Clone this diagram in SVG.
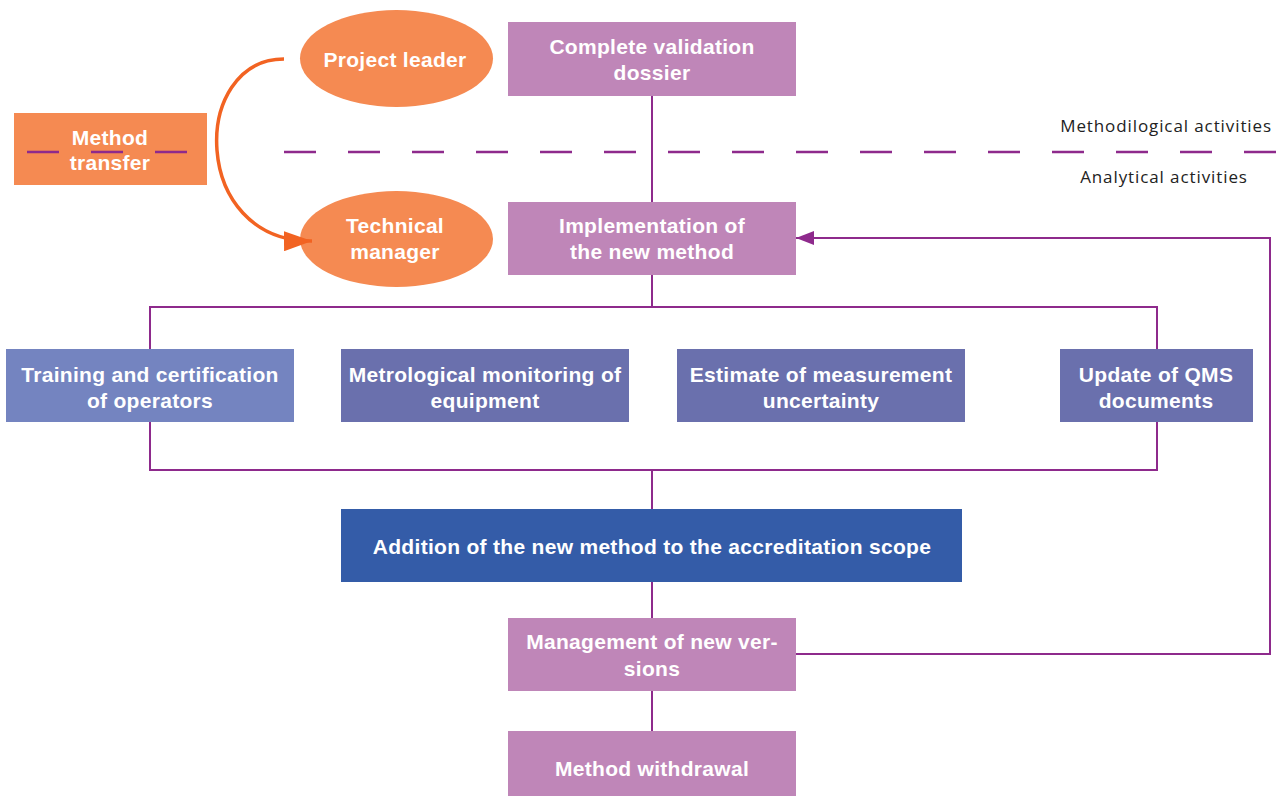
<svg xmlns="http://www.w3.org/2000/svg" width="1281" height="796" viewBox="0 0 1281 796">
<defs>
<marker id="arrP" markerUnits="userSpaceOnUse" viewBox="0 0 18 14" markerWidth="18" markerHeight="14" refX="18" refY="7" orient="auto"><path d="M0,0 L18,7 L0,14 z" fill="#8E2A8C"/></marker>
<marker id="arrO" markerUnits="userSpaceOnUse" viewBox="0 0 28 20" markerWidth="28" markerHeight="20" refX="28" refY="10" orient="auto"><path d="M0,0 L28,10 L0,20 z" fill="#F26322"/></marker>
<style>
.t{font-family:"Liberation Sans",Arial,sans-serif;font-weight:bold;font-size:21px;fill:#fff;text-anchor:middle;letter-spacing:0.3px}
.lbl{font-family:"Open Sans",sans-serif;font-size:17px;fill:#222;letter-spacing:0.9px}
.ln{fill:none;stroke:#8E2A8C;stroke-width:2}
.dash{fill:none;stroke:#8E2A8C;stroke-width:2.5;stroke-dasharray:32 32}
.pur{fill:#BF86B8}
.ind{fill:#6A70AD}
.org{fill:#F58A52}
</style>
</defs>
<rect width="1281" height="796" fill="#fff"/>

<g id="method-transfer">
<rect class="org" x="14" y="113" width="193" height="72"/>
<text class="t" x="110" y="145">Method</text>
<text class="t" x="110" y="170">transfer</text>
</g>

<g id="labels">
<text class="lbl" x="1272" y="132" text-anchor="end">Methodilogical activities</text>
<text class="lbl" x="1164" y="183" text-anchor="middle">Analytical activities</text>
</g>

<g id="project-leader">
<ellipse class="org" cx="396.5" cy="58.5" rx="96.5" ry="48.5"/>
<text class="t" x="395" y="67">Project leader</text>
</g>

<g id="technical-manager">
<ellipse class="org" cx="396.5" cy="239" rx="96.5" ry="48"/>
<text class="t" x="395" y="233">Technical</text>
<text class="t" x="395" y="259">manager</text>
</g>

<g id="validation-dossier">
<rect class="pur" x="508" y="22" width="288" height="74"/>
<text class="t" x="652" y="54">Complete validation</text>
<text class="t" x="652" y="80">dossier</text>
</g>

<g id="implementation">
<rect class="pur" x="508" y="202" width="288" height="73"/>
<text class="t" x="652" y="233">Implementation of</text>
<text class="t" x="652" y="259">the new method</text>
</g>

<g id="training">
<rect x="6" y="349" width="288" height="73" fill="#7484C0"/>
<text class="t" x="150" y="382">Training and certification</text>
<text class="t" x="150" y="408">of operators</text>
</g>

<g id="metrological">
<rect class="ind" x="341" y="349" width="288" height="73"/>
<text class="t" x="485" y="382">Metrological monitoring of</text>
<text class="t" x="485" y="408">equipment</text>
</g>

<g id="uncertainty">
<rect class="ind" x="677" y="349" width="288" height="73"/>
<text class="t" x="821" y="382">Estimate of measurement</text>
<text class="t" x="821" y="408">uncertainty</text>
</g>

<g id="qms">
<rect class="ind" x="1060" y="349" width="193" height="73"/>
<text class="t" x="1156" y="382">Update of QMS</text>
<text class="t" x="1156" y="408">documents</text>
</g>

<g id="accreditation">
<rect x="341" y="509" width="621" height="73" fill="#345CA8"/>
<text class="t" x="652" y="554">Addition of the new method to the accreditation scope</text>
</g>

<g id="versions">
<rect class="pur" x="508" y="618" width="288" height="73"/>
<text class="t" x="652" y="649">Management of new ver-</text>
<text class="t" x="652" y="676">sions</text>
</g>

<g id="withdrawal">
<rect class="pur" x="508" y="731" width="288" height="65"/>
<text class="t" x="652" y="776">Method withdrawal</text>
</g>

<g id="connectors">
<line class="dash" x1="27" y1="152" x2="187" y2="152"/>
<line class="dash" x1="284" y1="152" x2="1281" y2="152"/>
<path d="M284,59 C190,59 190,242 312,241" fill="none" stroke="#F26322" stroke-width="3.5" marker-end="url(#arrO)"/>
<path class="ln" d="M652,96 V202"/>
<path class="ln" d="M652,275 V307 M150,349 V307 H1157 V349"/>
<path class="ln" d="M150,422 V470 H1157 V422 M652,470 V509"/>
<path class="ln" d="M652,582 V618"/>
<path class="ln" d="M652,691 V731"/>
<path class="ln" d="M796,654 H1270 V238 H796" marker-end="url(#arrP)"/>
</g>
</svg>
